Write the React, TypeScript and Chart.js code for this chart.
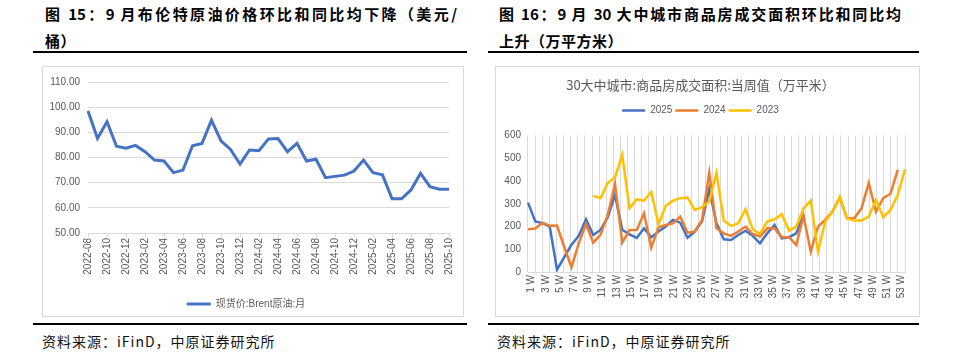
import React, { useEffect, useRef } from "react";
import { Chart, registerables } from "chart.js";
Chart.register(...registerables);

const FONT = "'Liberation Sans', 'Noto Sans CJK SC', sans-serif";
const CJK = "'Noto Sans CJK SC', 'Liberation Sans', sans-serif";
const TEXT_GRAY = "#595959";
const GRID = "#d9d9d9";

// ---- Figure 15: Brent crude monthly spot price (USD/bbl) ----
const brentMonths = [
  "2022-08", "2022-09", "2022-10", "2022-11", "2022-12",
  "2023-01", "2023-02", "2023-03", "2023-04", "2023-05", "2023-06",
  "2023-07", "2023-08", "2023-09", "2023-10", "2023-11", "2023-12",
  "2024-01", "2024-02", "2024-03", "2024-04", "2024-05", "2024-06",
  "2024-07", "2024-08", "2024-09", "2024-10", "2024-11", "2024-12",
  "2025-01", "2025-02", "2025-03", "2025-04", "2025-05", "2025-06",
  "2025-07", "2025-08", "2025-09", "2025-10",
];
const brentPrices = [
  98.5, 87.6, 94.2, 84.5, 83.7,
  84.8, 82.3, 79.0, 78.6, 74.0, 75.0,
  84.7, 85.6, 94.8, 86.6, 83.2, 77.4,
  83.0, 82.7, 87.4, 87.5, 82.3, 85.6,
  78.6, 79.3, 72.0, 72.5, 73.0, 74.6,
  79.0, 74.0, 73.1, 63.6, 63.6, 67.1,
  73.7, 68.4, 67.4, 67.4,
];
const brentSeriesName = "现货价:Brent原油:月";
const brentAxisMin = 50;
const brentAxisMax = 110;
const brentAxisStep = 10;

// ---- Figure 16: 30 cities weekly commodity housing transaction area (10k m2) ----
const weekLabels = [
  "1 W", "2 W", "3 W", "4 W", "5 W", "6 W", "7 W", "8 W", "9 W", "10 W",
  "11 W", "12 W", "13 W", "14 W", "15 W", "16 W", "17 W", "18 W", "19 W", "20 W",
  "21 W", "22 W", "23 W", "24 W", "25 W", "26 W", "27 W", "28 W", "29 W", "30 W",
  "31 W", "32 W", "33 W", "34 W", "35 W", "36 W", "37 W", "38 W", "39 W", "40 W",
  "41 W", "42 W", "43 W", "44 W", "45 W", "46 W", "47 W", "48 W", "49 W", "50 W",
  "51 W", "52 W", "53 W",
];
const area2025 = [
  305, 222, 215, 200, 10, 65, 120, 159, 232, 163,
  185, 241, 339, 186, 165, 150, 192, 153, 178, 200,
  229, 217, 151, 178, 222, 364, 214, 144, 141, 163,
  182, 159, 126, 170, 207, 148, 153, 170, 251,
];
const area2024 = [
  188, 191, 217, 203, 204, 110, 21, 126, 211, 129,
  163, 251, 388, 129, 185, 185, 258, 107, 197, 207,
  214, 244, 173, 178, 229, 437, 192, 170, 159, 178,
  200, 167, 156, 192, 192, 153, 153, 119, 247, 90,
  200, 229, 266, 327, 236, 236, 280, 391, 266, 325,
  344, 449, null,
];
const area2023 = [
  null, null, null, null, null, null, null, null, null, 335,
  325, 391, 417, 515, 281, 320, 314, 352, 210, 291,
  314, 325, 327, 273, 285, 310, 437, 226, 203, 214,
  276, 188, 167, 222, 232, 254, 182, 200, 280, 314,
  90, 222, 266, 330, 236, 226, 226, 244, 317, 241,
  273, 339, 452,
];
const areaChartTitle = "30大中城市:商品房成交面积:当周值（万平米）";
const areaAxisMax = 600;
const areaAxisStep = 100;

function BrentChart() {
  const ref = useRef<HTMLCanvasElement>(null);
  useEffect(() => {
    const chart = new Chart(ref.current!, {
      type: "line",
      data: {
        labels: brentMonths,
        datasets: [
          {
            label: brentSeriesName,
            data: brentPrices,
            borderColor: "#4472C4",
            backgroundColor: "#4472C4",
            borderWidth: 3,
            pointRadius: 0,
            tension: 0,
            fill: false,
          },
        ],
      },
      options: {
        animation: false,
        responsive: false,
        maintainAspectRatio: false,
        layout: { padding: { top: 15, right: 13, left: 0, bottom: 0 } },
        plugins: {
          tooltip: { enabled: false },
          legend: {
            position: "bottom",
            labels: {
              usePointStyle: true,
              pointStyle: "line",
              pointStyleWidth: 24,
              padding: 10,
              color: TEXT_GRAY,
              font: { family: FONT, size: 10 },
            },
          },
        },
        scales: {
          x: {
            offset: false,
            grid: {
              drawOnChartArea: false,
              drawTicks: true,
              tickLength: 4,
              color: (ctx: any) => (ctx.index % 2 === 0 ? GRID : "rgba(0,0,0,0)"),
            },
            border: { color: GRID },
            ticks: {
              autoSkip: false,
              maxRotation: 90,
              minRotation: 90,
              padding: 1,
              color: TEXT_GRAY,
              font: { family: FONT, size: 10 },
              callback: (_v: any, i: number) => (i % 2 === 0 ? brentMonths[i] : ""),
            },
            afterFit: (s: any) => {
              s.height = 56;
            },
          },
          y: {
            min: brentAxisMin,
            max: brentAxisMax,
            grid: { color: GRID, drawTicks: false },
            border: { display: false },
            ticks: {
              stepSize: brentAxisStep,
              padding: 8,
              color: TEXT_GRAY,
              font: { family: FONT, size: 10 },
              callback: (v: any) => Number(v).toFixed(2),
            },
            afterFit: (s: any) => {
              s.width = 45;
            },
          },
        },
      },
    });
    return () => chart.destroy();
  }, []);
  return (
    <canvas
      ref={ref}
      width={419}
      height={252}
      style={{ position: "absolute", left: 43, top: 67, width: 419, height: 252 }}
    />
  );
}

function AreaChart() {
  const ref = useRef<HTMLCanvasElement>(null);
  useEffect(() => {
    const chart = new Chart(ref.current!, {
      type: "line",
      data: {
        labels: weekLabels,
        datasets: [
          {
            label: "2025",
            data: area2025,
            borderColor: "#4472C4",
            backgroundColor: "#4472C4",
            borderWidth: 2.5,
            pointRadius: 0,
            tension: 0,
            order: 2,
          },
          {
            label: "2024",
            data: area2024,
            borderColor: "#ED7D31",
            backgroundColor: "#ED7D31",
            borderWidth: 2.5,
            pointRadius: 0,
            tension: 0,
            order: 1,
          },
          {
            label: "2023",
            data: area2023,
            borderColor: "#FFC000",
            backgroundColor: "#FFC000",
            borderWidth: 2.5,
            pointRadius: 0,
            tension: 0,
            order: 0,
          },
        ],
      },
      options: {
        animation: false,
        responsive: false,
        maintainAspectRatio: false,
        layout: { padding: { top: 0, right: 14, left: 0, bottom: 0 } },
        plugins: {
          tooltip: { enabled: false },
          title: {
            display: true,
            text: areaChartTitle,
            color: TEXT_GRAY,
            font: { family: CJK, size: 13, weight: "normal" },
            padding: { top: 10, bottom: 10 },
          },
          legend: {
            position: "top",
            labels: {
              usePointStyle: true,
              pointStyle: "line",
              pointStyleWidth: 23,
              padding: 3,
              color: TEXT_GRAY,
              font: { family: FONT, size: 10 },
              sort: (a: any, b: any) => a.datasetIndex - b.datasetIndex,
            },
          },
        },
        scales: {
          spacer: {
            axis: "x",
            type: "category",
            position: "top",
            display: true,
            grid: { display: false, drawTicks: false },
            border: { display: false },
            ticks: { display: false },
            afterFit: (s: any) => {
              s.height = 10;
            },
          },
          x: {
            type: "category",
            offset: true,
            grid: { display: true, offset: true, drawTicks: false, color: GRID },
            border: { color: GRID },
            ticks: {
              autoSkip: false,
              maxRotation: 90,
              minRotation: 90,
              padding: 3,
              color: TEXT_GRAY,
              font: { family: FONT, size: 10 },
              callback: (_v: any, i: number) => (i % 2 === 0 ? weekLabels[i] : ""),
            },
            afterFit: (s: any) => {
              s.height = 44;
            },
          },
          y: {
            min: 0,
            max: areaAxisMax,
            grid: { display: false, drawTicks: false },
            border: { display: false },
            ticks: {
              stepSize: areaAxisStep,
              padding: 7,
              color: TEXT_GRAY,
              font: { family: FONT, size: 10 },
            },
            afterFit: (s: any) => {
              s.width = 32;
            },
          },
        },
      },
    } as any);
    return () => chart.destroy();
  }, []);
  return (
    <canvas
      ref={ref}
      width={423}
      height={249}
      style={{ position: "absolute", left: 496, top: 67, width: 423, height: 249 }}
    />
  );
}

const titleStyle: React.CSSProperties = {
  position: "absolute",
  fontFamily: CJK,
  fontWeight: 700,
  fontSize: 15,
  lineHeight: "20px",
  color: "#000",
  whiteSpace: "nowrap",
  letterSpacing: 0.5,
};

const sourceStyle: React.CSSProperties = {
  position: "absolute",
  fontFamily: CJK,
  fontSize: 14,
  lineHeight: "18px",
  letterSpacing: 1,
  color: "#111",
  whiteSpace: "nowrap",
};

export default function App() {
  return (
    <div
      style={{
        position: "absolute",
        left: 0,
        top: 0,
        width: 953,
        height: 355,
        background: "#fff",
        overflow: "hidden",
      }}
    >
      {/* Left panel title */}
      <div
        style={{
          ...titleStyle,
          left: 45,
          top: 4,
          width: 412,
          textAlign: "justify",
          textAlignLast: "justify",
          whiteSpace: "normal",
          letterSpacing: 0,
        }}
      >
        图 15：9 月布伦特原油价格环比和同比均下降（美元/
      </div>
      <div style={{ ...titleStyle, left: 45, top: 31 }}>桶）</div>
      <div style={{ position: "absolute", left: 33, top: 51, width: 434, height: 2, background: "#000" }} />

      {/* Right panel title */}
      <div
        style={{
          ...titleStyle,
          left: 499,
          top: 4,
          width: 402,
          textAlign: "justify",
          textAlignLast: "justify",
          whiteSpace: "normal",
          letterSpacing: 0,
        }}
      >
        图 16：9 月 30 大中城市商品房成交面积环比和同比均
      </div>
      <div style={{ ...titleStyle, left: 499, top: 31 }}>上升（万平方米）</div>
      <div style={{ position: "absolute", left: 488, top: 51, width: 431, height: 2, background: "#000" }} />

      {/* Chart frames */}
      <div
        style={{
          position: "absolute",
          left: 42,
          top: 66,
          width: 420,
          height: 249,
          border: "1px solid " + GRID,
        }}
      />
      <div
        style={{
          position: "absolute",
          left: 495,
          top: 66,
          width: 423,
          height: 249,
          border: "1px solid " + GRID,
        }}
      />

      <BrentChart />
      <AreaChart />

      {/* Bottom rules and sources */}
      <div style={{ position: "absolute", left: 33, top: 323, width: 434, height: 2, background: "#000" }} />
      <div style={{ position: "absolute", left: 488, top: 323, width: 431, height: 2, background: "#000" }} />
      <div style={{ ...sourceStyle, left: 42, top: 332 }}>资料来源：iFinD，中原证券研究所</div>
      <div style={{ ...sourceStyle, left: 497, top: 332 }}>资料来源：iFinD，中原证券研究所</div>
    </div>
  );
}
